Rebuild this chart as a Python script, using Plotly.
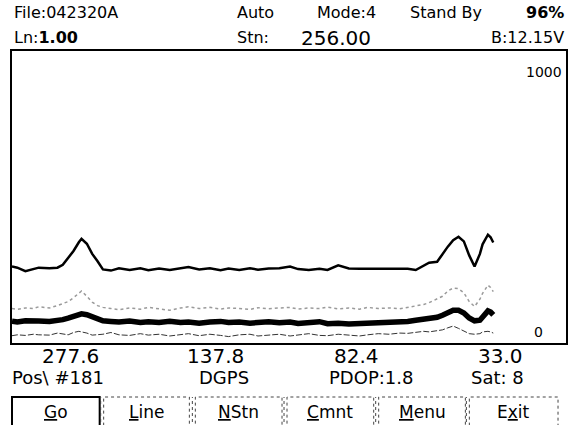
import plotly.graph_objects as go

# ---- data ----
fiducial = [0, 2, 5, 8, 10, 14, 17, 19, 21, 23, 25, 26, 28, 30, 32, 34, 37, 40, 44, 48, 51, 55, 59, 63,
            66, 70, 74, 78, 81, 85, 89, 92, 96, 100, 104, 107, 111, 115, 118, 122, 126, 130, 133, 137,
            141, 145, 148, 151, 154, 156, 159, 161, 163, 165, 167, 169, 171, 173, 175, 176, 178, 179, 180]

ch1 = [262, 258, 246, 252, 258, 256, 258, 268, 290, 315, 345, 357, 340, 305, 280, 252, 248, 256, 250, 256,
       249, 255, 250, 256, 260, 252, 256, 249, 255, 250, 256, 251, 255, 256, 262, 253, 250, 254, 250, 266,
       255, 254, 254, 254, 252, 254, 254, 250, 266, 275, 278, 305, 330, 352, 364, 348, 300, 262, 305, 338,
       371, 362, 344]

ch2 = [118, 115, 120, 118, 124, 120, 128, 135, 142, 155, 170, 178, 160, 140, 128, 122, 118, 114, 120, 116,
       122, 118, 112, 120, 124, 118, 122, 116, 120, 118, 115, 121, 117, 120, 122, 116, 120, 118, 123, 117,
       120, 116, 122, 118, 120, 117, 122, 125, 132, 138, 150, 160, 178, 188, 186, 172, 142, 125, 150, 170,
       198, 190, 176]

ch3 = [75, 72, 76, 73, 75, 74, 76, 80, 85, 92, 98, 100, 97, 90, 82, 76, 74, 72, 75, 70, 73, 70, 74, 70,
       72, 68, 72, 74, 70, 72, 68, 70, 73, 69, 72, 67, 70, 73, 66, 68, 65, 66, 70, 67, 72, 70, 74, 78, 80,
       84, 88, 95, 104, 112, 112, 103, 86, 76, 78, 90, 110, 106, 96]

ch4 = [25, 28, 26, 30, 28, 27, 34, 30, 28, 36, 40, 38, 34, 27, 28, 30, 36, 28, 26, 32, 27, 30, 24, 28,
       32, 25, 30, 26, 22, 28, 30, 24, 27, 30, 24, 28, 32, 26, 25, 30, 27, 24, 28, 32, 30, 34, 33, 36, 40,
       38, 42, 45, 52, 58, 50, 42, 32, 30, 32, 38, 40, 38, 34]

y_max_label = "1000"
y_min_label = "0"

header = {"file": "File:042320A", "auto": "Auto", "mode": "Mode:4", "stand": "Stand By",
          "pct": "96%", "ln": "1.00", "stn": "256.00", "batt": "B:12.15V"}
readings = ["277.6", "137.8", "82.4", "33.0"]
status = ["Pos\\ #181", "DGPS", "PDOP:1.8", "Sat: 8"]
buttons = [("G", "o"), ("L", "ine"), ("N", "Stn"), ("C", "mnt"), ("M", "enu"), ("E", "x", "it")]

# ---- layout helpers (pixel -> paper) ----
W, H = 569, 425
L, R, T, B = 12, 568, 51, 343


def px(x):
    return (x - L) / (R - L)


def py(y):
    return (B - y) / (B - T)


FONT = "DejaVu Sans"

fig = go.Figure()
fig.add_trace(go.Scatter(x=fiducial, y=ch2, mode="lines",
                         line=dict(color="#9a9a9a", width=1.5, dash="dot")))
fig.add_trace(go.Scatter(x=fiducial, y=ch4, mode="lines",
                         line=dict(color="#333333", width=1, dash="6px,2px")))
fig.add_trace(go.Scatter(x=fiducial, y=ch3, mode="lines",
                         line=dict(color="black", width=5.5)))
fig.add_trace(go.Scatter(x=fiducial, y=ch1, mode="lines",
                         line=dict(color="black", width=2.5)))

ann = []


def text(x, y, s, size=15, anchor="left", bold=False):
    if bold:
        s = "<b>" + s + "</b>"
    ann.append(dict(x=px(x), y=py(y), xref="paper", yref="paper", text=s, showarrow=False,
                    xanchor=anchor, yanchor="middle",
                    font=dict(family=FONT, size=size, color="black")))


# header row 1
text(12, 13, header["file"], size=16)
text(236, 13, header["auto"], size=16)
text(316, 13, header["mode"], size=16)
text(409, 13, header["stand"], size=16)
text(568, 13, header["pct"], size=16, anchor="right", bold=True)
# header row 2
text(12, 38, "Ln:<b>" + header["ln"] + "</b>", size=16)
text(236, 38, "Stn:", size=16)
text(300, 38, header["stn"], size=20)
text(568, 38, header["batt"], size=16, anchor="right")

# axis labels inside plot
text(566, 72, y_max_label, size=14, anchor="right")
text(547, 332, y_min_label, size=14, anchor="right")

# readings
for cx, s in zip([71, 216, 358, 502], readings):
    text(cx, 356, s, size=20, anchor="center")
for cx, s, a in zip([10, 225, 372, 528], status, ["left", "center", "center", "right"]):
    text(cx, 377, s, size=18, anchor=a)

# buttons
btn_boxes = [(12, 100), (104, 190), (196, 283), (288, 375), (380, 467), (471, 560)]
shapes = []
for i, ((x0, x1), parts) in enumerate(zip(btn_boxes, buttons)):
    if i == 0:
        shapes.append(dict(type="rect", xref="paper", yref="paper", x0=px(x0), x1=px(x1),
                           y0=py(428), y1=py(397), line=dict(color="black", width=2)))
    else:
        shapes.append(dict(type="rect", xref="paper", yref="paper", x0=px(x0), x1=px(x1),
                           y0=py(428), y1=py(397), line=dict(color="#444", width=1, dash="dot")))
        shapes.append(dict(type="line", xref="paper", yref="paper", x0=px(x0 - 3), x1=px(x0 - 3),
                           y0=py(428), y1=py(397), line=dict(color="#444", width=1, dash="dot")))
    if len(parts) == 2:
        lab = "<span style='text-decoration:underline'>" + parts[0] + "</span>" + parts[1]
    else:
        lab = parts[0] + "<span style='text-decoration:underline'>" + parts[1] + "</span>" + parts[2]
    text((x0 + x1) / 2, 412, lab, size=17, anchor="center")

fig.update_layout(
    width=W, height=H,
    margin=dict(l=L, r=W - R, t=T, b=H - B),
    paper_bgcolor="white", plot_bgcolor="white",
    showlegend=False,
    annotations=ann, shapes=shapes,
    xaxis=dict(range=[0, 207.2], showgrid=False, zeroline=False, showticklabels=False, ticks="",
               showline=True, mirror=True, linecolor="black", linewidth=1.5),
    yaxis=dict(range=[0, 1000], showgrid=False, zeroline=False, showticklabels=False, ticks="",
               showline=True, mirror=True, linecolor="black", linewidth=1.5),
)

fig.write_html("out.html", config={"displayModeBar": False},
               post_script="document.body.style.margin='0';document.body.style.overflow='hidden';")
